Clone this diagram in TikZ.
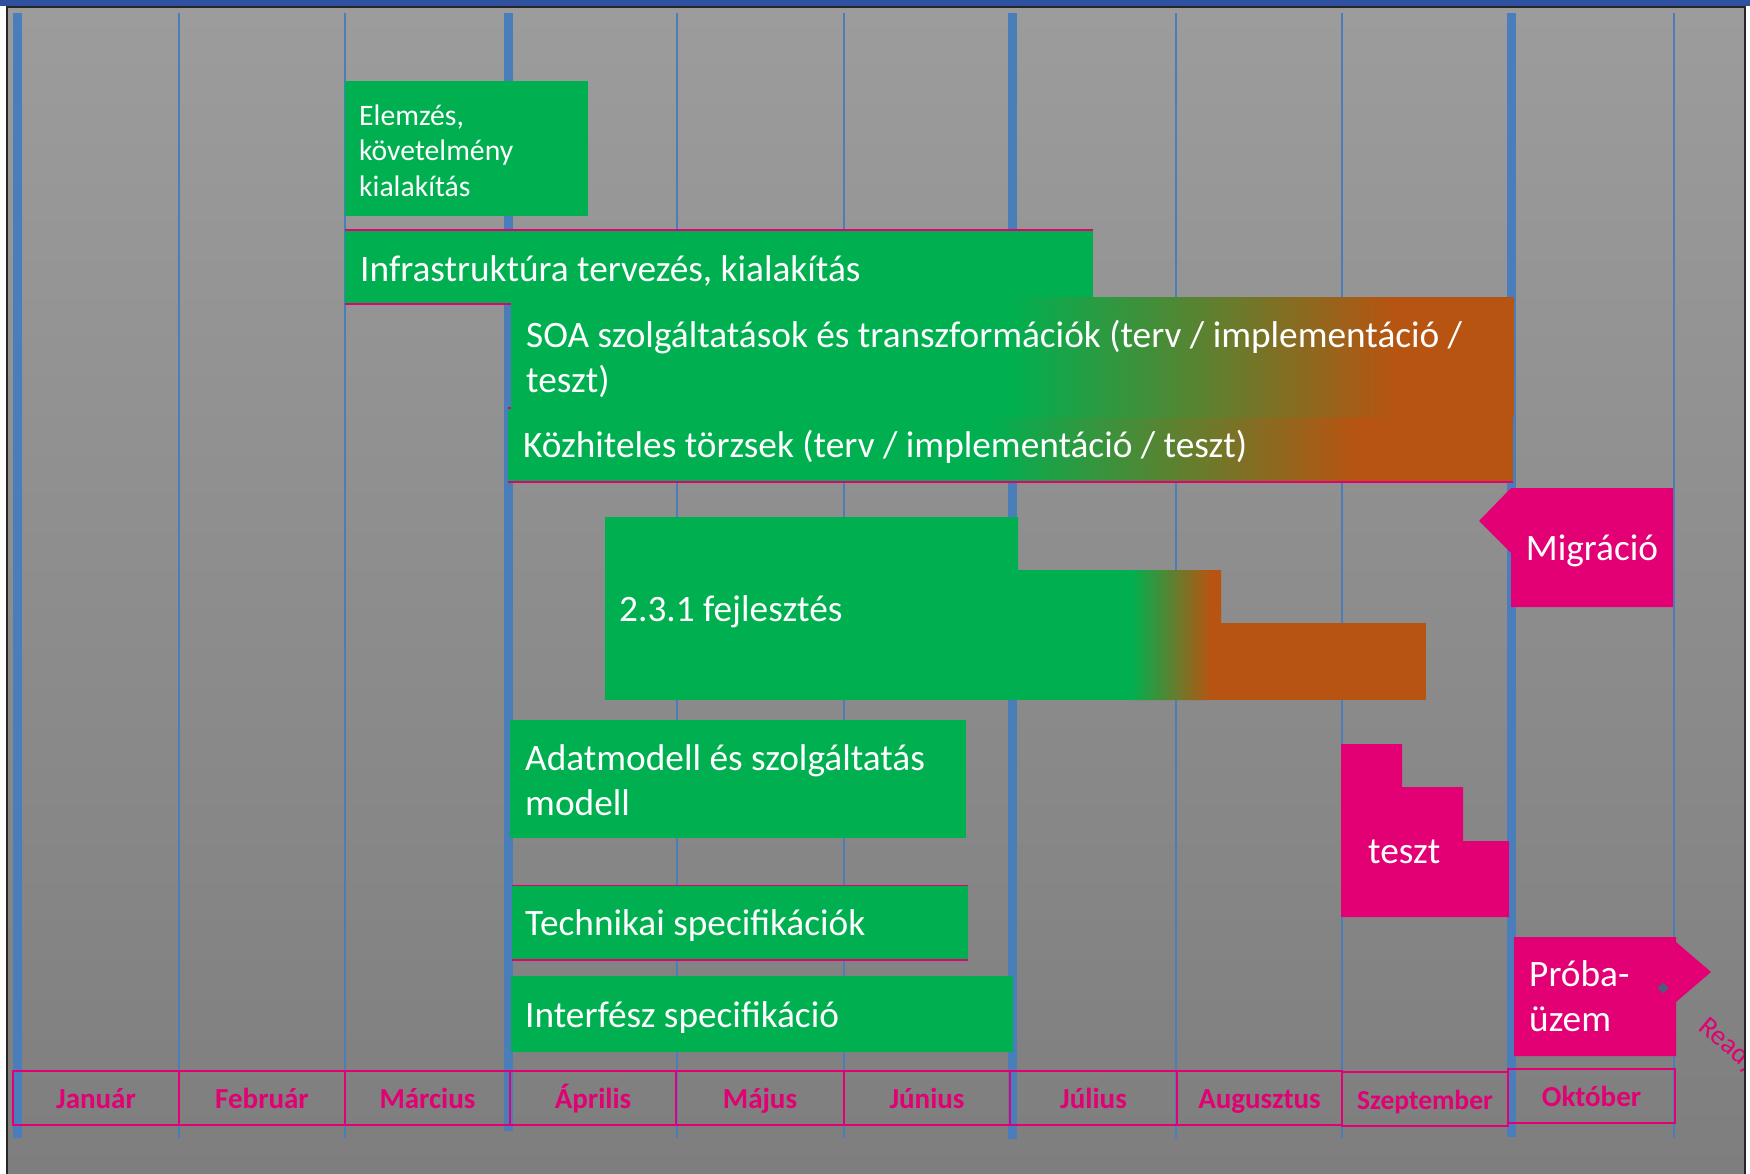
\documentclass[tikz,border=0pt]{standalone}
\usepackage{fontspec}
\setmainfont{Carlito}
\definecolor{bgtop}{RGB}{156,156,156}
\definecolor{bgbot}{RGB}{126,126,126}
\definecolor{gr}{RGB}{0,176,80}
\definecolor{orng}{RGB}{183,84,17}
\definecolor{mag}{RGB}{226,0,116}
\definecolor{gridblue}{RGB}{74,126,187}
\definecolor{band}{RGB}{47,79,159}
\definecolor{slate}{RGB}{78,91,121}
\newcommand\gradbar[6]{%
  \fill[gr] (#1,#2) rectangle ({#5+0.6},#4);
  \shade[left color=gr,right color=orng] (#5,#2) rectangle (#6,#4);
  \fill[orng] ({#6-0.6},#2) rectangle (#3,#4);}
\begin{document}
\begin{tikzpicture}[x=1pt,y=-1pt,
  bartext/.style={anchor=base west,inner sep=0pt,text=white,font=\fontsize{37.3}{45}\selectfont},
  smalltext/.style={anchor=base west,inner sep=0pt,text=white,font=\fontsize{29.7}{35.5}\selectfont},
  monthbox/.style={draw=mag,line width=2.6pt,inner sep=0pt,text=mag,font=\bfseries\fontsize{29}{34}\selectfont,text height=20pt,text depth=0pt,minimum height=54pt},
  thickgrid/.style={draw=gridblue,line width=9pt},
  thingrid/.style={draw=gridblue,line width=2pt},
  magline/.style={draw=mag,line width=2pt}]
\useasboundingbox (0,0) rectangle (1750,1174);
\fill[white] (0,0) rectangle (1750,1174);
\fill[band] (0,0) rectangle (1750,6.5);
\shade[top color=bgtop,bottom color=bgbot] (7,7) rectangle (1745,1174);

% grid lines
\foreach \x/\e in {17.5/1138,508/1131,1012/1139,1511/1137}
  \draw[thickgrid] (\x,13) -- (\x,\e);
\foreach \x in {179,345,677,844,1176,1342,1674}
  \draw[thingrid] (\x,13) -- (\x,1138);

% Elemzes
\fill[gr] (345,81.5) rectangle (588,216.5);
\node[smalltext] (elemzes) at (359,125.5) {\vtop{\hbox{Elemzés,}\hbox{követelmény}\hbox{kialakítás}}};

% Infrastruktura
\fill[gr] (345,230) rectangle (1093,304);
\draw[magline,line width=1.5pt] (345,230) -- (1093,230);
\draw[magline] (345,304) -- (1093,304);
\node[bartext] (infra) at (360,281) {Infrastruktúra tervezés, kialakítás};

% Kozhiteles
\gradbar{508}{408}{1513}{482}{990}{1355}
\draw[magline,line width=1.5pt] (508,408) -- (1513,408);
\draw[magline,line width=2.5pt] (508,482) -- (1513,482);

% SOA
\gradbar{511}{297}{1514}{417}{1010}{1395}
\node[bartext] (soa) at (526,347) {\vtop{\hbox{SOA szolgáltatások és transzformációk (terv / implementáció /}\hbox{teszt)}}};
\node[bartext] (kozh) at (523,457) {Közhiteles törzsek (terv / implementáció / teszt)};

% 2.3.1
\begin{scope}
\clip (605,517) -- (1018,517) -- (1018,570) -- (1221,570) -- (1221,623) -- (1426,623) -- (1426,700) -- (605,700) -- cycle;
\gradbar{605}{517}{1426}{700}{1131}{1211}
\end{scope}
\node[bartext] (fejl) at (619,621) {2.3.1 fejlesztés};

% Adatmodell
\fill[gr] (510,720) rectangle (966,838);
\node[bartext] (adat) at (525,770) {\vtop{\hbox{Adatmodell és szolgáltatás}\hbox{modell}}};

% Technikai
\fill[gr] (512,885) rectangle (968,960);
\draw[magline,line width=1pt] (512,885) -- (968,885);
\draw[magline,line width=2.5pt] (512,960) -- (968,960);
\node[bartext] (tech) at (525,935) {Technikai specifikációk};

% Interfesz
\fill[gr] (511,976) rectangle (1013,1052);
\node[bartext] (interf) at (525,1027) {Interfész specifikáció};

% Migracio
\fill[mag] (1511,488) -- (1673,488) -- (1673,607) -- (1511,607) -- (1511,553) -- (1479,521) -- cycle;
\node[bartext,anchor=base] (migr) at (1592,560) {Migráció};

% teszt
\fill[mag] (1341,744) -- (1402,744) -- (1402,787) -- (1463,787) -- (1463,841) -- (1509,841) -- (1509,917) -- (1341,917) -- cycle;
\node[bartext] (teszt) at (1368,863) {teszt};

% Proba-uzem
\fill[mag] (1514,937) -- (1676,937) -- (1676,942) -- (1711,972) -- (1676,1002) -- (1676,1056) -- (1514,1056) -- cycle;
\node[bartext] (proba) at (1529,986) {\vtop{\hbox{Próba-}\hbox{üzem}}};
\fill[slate] (1663,982.5) -- (1668.5,988) -- (1663,993.5) -- (1657.5,988) -- cycle;

% Ready (clipped at the panel edge)
\begin{scope}
\clip (0,0) rectangle (1745,1174);
\node[anchor=base west,inner sep=0pt,text=mag,rotate=-40,font=\fontsize{28}{30}\selectfont] (ready) at (1697,1029) {Ready};
\end{scope}

% months
\node[monthbox,minimum width=166pt] (jan) at (96,1098) {Január};
\node[monthbox,minimum width=166pt] (feb) at (262,1098) {Február};
\node[monthbox,minimum width=165pt] (mar) at (427.5,1098) {Március};
\node[monthbox,minimum width=166pt] (apr) at (593,1098) {Április};
\node[monthbox,minimum width=168pt] (maj) at (760,1098) {Május};
\node[monthbox,minimum width=166pt] (jun) at (927,1098) {Június};
\node[monthbox,minimum width=167pt] (jul) at (1093.5,1098) {Július};
\node[monthbox,minimum width=165pt] (aug) at (1259.5,1098) {Augusztus};
\node[monthbox,minimum width=166pt,font=\bfseries\fontsize{27.5}{33}\selectfont] (szep) at (1425,1099) {Szeptember};
\node[monthbox,minimum width=167pt] (okt) at (1591.5,1096) {Október};

% panel border
\draw[black!85,line width=1.3pt] (7,1174) -- (7,7) -- (1745,7) -- (1745,1174);
\end{tikzpicture}
\end{document}
